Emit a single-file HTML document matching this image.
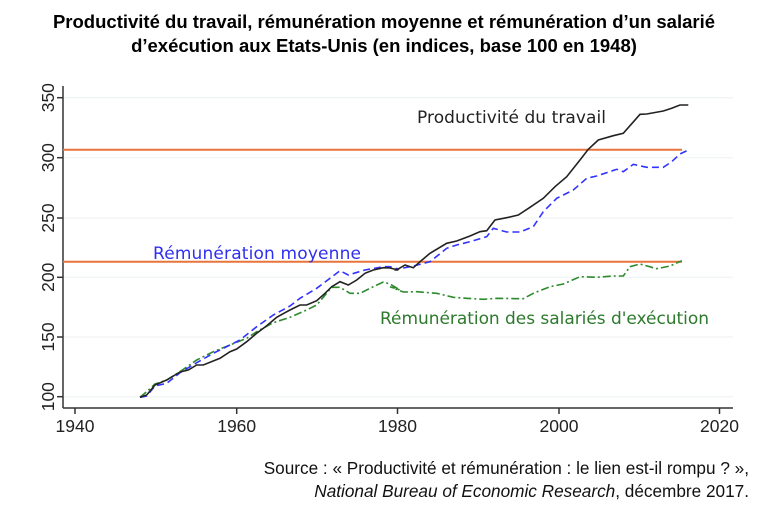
<!DOCTYPE html>
<html><head><meta charset="utf-8"><style>
body{margin:0;background:#fff;width:767px;height:520px;overflow:hidden;font-family:"Liberation Sans",Arial,sans-serif}
</style></head><body>
<svg id="s" width="767" height="520" xmlns="http://www.w3.org/2000/svg" font-family="Liberation Sans, Arial, sans-serif">
<text x="384" y="28" text-anchor="middle" font-size="18.5" font-weight="bold">Productivité du travail, rémunération moyenne et rémunération d’un salarié</text>
<text x="384" y="52" text-anchor="middle" font-size="18.5" font-weight="bold">d’exécution aux Etats-Unis (en indices, base 100 en 1948)</text>
<g stroke="#eef2f2" stroke-width="1">
<line x1="63" x2="733" y1="396.7" y2="396.7"/><line x1="63" x2="733" y1="337" y2="337"/><line x1="63" x2="733" y1="277.3" y2="277.3"/><line x1="63" x2="733" y1="218" y2="218"/><line x1="63" x2="733" y1="157.7" y2="157.7"/><line x1="63" x2="733" y1="97.7" y2="97.7"/>
</g>
<g stroke="#333" stroke-width="1.5">
<line x1="63" x2="63" y1="86" y2="408"/><line x1="63" x2="733" y1="408" y2="408"/>
<line x1="57" x2="63" y1="396.7" y2="396.7"/><line x1="57" x2="63" y1="337" y2="337"/><line x1="57" x2="63" y1="277.3" y2="277.3"/><line x1="57" x2="63" y1="218" y2="218"/><line x1="57" x2="63" y1="157.7" y2="157.7"/><line x1="57" x2="63" y1="97.7" y2="97.7"/>
<line x1="75" x2="75" y1="408" y2="414"/><line x1="236.7" x2="236.7" y1="408" y2="414"/><line x1="397.5" x2="397.5" y1="408" y2="414"/><line x1="559" x2="559" y1="408" y2="414"/><line x1="719.5" x2="719.5" y1="408" y2="414"/>
</g>
<g font-size="17.5" fill="#222">
<text x="75" y="432" text-anchor="middle">1940</text><text x="236.7" y="432" text-anchor="middle">1960</text><text x="397.5" y="432" text-anchor="middle">1980</text><text x="559" y="432" text-anchor="middle">2000</text><text x="719.5" y="432" text-anchor="middle">2020</text>
<text transform="translate(54,396.7) rotate(-90)" text-anchor="middle">100</text>
<text transform="translate(54,337) rotate(-90)" text-anchor="middle">150</text>
<text transform="translate(54,277.3) rotate(-90)" text-anchor="middle">200</text>
<text transform="translate(54,218) rotate(-90)" text-anchor="middle">250</text>
<text transform="translate(54,157.7) rotate(-90)" text-anchor="middle">300</text>
<text transform="translate(54,97.7) rotate(-90)" text-anchor="middle">350</text>
</g>
<g stroke="#e8743b" stroke-width="2">
<line x1="63" x2="682" y1="149.7" y2="149.7"/><line x1="63" x2="682" y1="261.7" y2="261.7"/>
</g>
<g id="series" fill="none"></g>
<g font-family="DejaVu Sans, sans-serif" font-size="17">
<text x="417" y="123" fill="#222" textLength="189">Productivité du travail</text>
<text x="153" y="259" fill="#2f2ff0" textLength="208">Rémunération moyenne</text>
<text x="380" y="324" fill="#2d7a2d" textLength="329">Rémunération des salariés d'exécution</text>
</g>
<text x="749" y="474" text-anchor="end" font-size="17.2" fill="#111">Source : « Productivité et rémunération : le lien est-il rompu ? »,</text>
<text x="749" y="497" text-anchor="end" font-size="17.2" fill="#111"><tspan font-style="italic">National Bureau of Economic Research</tspan>, décembre 2017.</text>
</svg>
<script>
function conv(a,b){var p=[];for(var i=0;i<a.length;i+=2)p.push((40+a[i]/3).toFixed(1)+","+(80+a[i+1]/3).toFixed(1));for(i=0;i<b.length;i+=2)p.push((380+b[i]/3).toFixed(1)+","+(80+b[i+1]/3).toFixed(1));return p.join(" ");}
var S=[
{c:"#2d8a2d",d:"8,3,2,3",a:[300,952,320,935,345,912,380,900,420,875,470,840,520,815,570,795,620,775,650,755,700,728,750,712,800,690,830,675,875,622,900,622,930,640,960,640,1000,620,1030,606,1050,612,1080,630],b:[30,620,70,636,110,635,170,640,220,652,260,655,310,658,350,655,430,656,460,640,510,620,550,612,600,590,650,592,700,588,730,588,750,560,780,552,830,566,870,558,905,542]},
{c:"#3333ff",d:"7,4",a:[300,952,320,948,345,918,380,910,420,878,470,848,520,820,570,795,600,780,650,740,700,705,750,678,780,655,830,625,870,595,900,572,925,585,975,570,1030,560,1050,560,1075,567],b:[50,568,100,558,150,545,200,505,230,495,270,485,320,470,340,445,380,456,420,456,460,440,490,395,530,355,580,330,620,295,650,288,710,268,730,275,760,253,800,262,850,262,875,245,900,222,925,210]},
{c:"#222",d:"",a:[300,952,320,945,345,915,380,900,420,876,445,870,470,855,490,855,540,835,570,815,590,807,620,785,650,760,680,737,710,712,735,698,750,690,780,675,800,675,830,662,855,640,875,620,900,605,925,615,950,600,975,580,1000,570,1030,563,1050,564,1075,570],b:[50,570,75,555,100,563,120,545,150,520,200,490,230,483,270,468,300,455,320,452,345,420,380,413,415,405,450,382,490,355,525,320,560,290,600,240,625,208,655,180,700,167,730,160,780,103,800,102,850,93,875,85,900,75,925,75]}];
var g=document.getElementById("series");
S.forEach(function(s){var e=document.createElementNS("http://www.w3.org/2000/svg","polyline");e.setAttribute("points",conv(s.a,s.b));e.setAttribute("stroke",s.c);e.setAttribute("stroke-width","1.6");if(s.d)e.setAttribute("stroke-dasharray",s.d);g.appendChild(e);});
</script>
</body></html>
